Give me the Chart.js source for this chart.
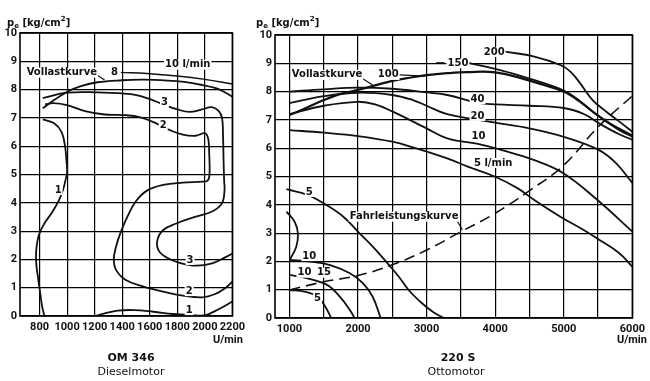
<!DOCTYPE html>
<html><head><meta charset="utf-8">
<script src="https://cdn.jsdelivr.net/npm/chart.js@4.4.1/dist/chart.umd.min.js"></script>
<style>
html,body{margin:0;padding:0;background:#fff;width:650px;height:381px;overflow:hidden;}
#wrap{position:relative;width:650px;height:381px;}
canvas{position:absolute;top:0;}
.t{position:absolute;font-family:'DejaVu Sans',sans-serif;font-weight:bold;color:#111;white-space:nowrap;line-height:1;}
.t sub{font-size:70%;vertical-align:-2px;}
.t sup{font-size:70%;vertical-align:5px;}
</style></head>
<body><div id="wrap">
<canvas id="c1" width="250" height="381" style="left:0"></canvas>
<canvas id="c2" width="400" height="381" style="left:250px"></canvas>
<div class="t" style="left:7px;top:16px;font-size:10px;">p<sub>e</sub> [kg/cm<sup>2</sup>]</div>
<div class="t" style="left:256px;top:16px;font-size:10px;">p<sub>e</sub> [kg/cm<sup>2</sup>]</div>
<div class="t" style="left:213px;top:334px;font-size:11px;font-family:Roboto,sans-serif;">U/min</div>
<div class="t" style="left:617px;top:334px;font-size:11px;font-family:Roboto,sans-serif;">U/min</div>
<div class="t" style="left:0;width:262px;text-align:center;top:352px;font-size:11px;">OM 346</div>
<div class="t" style="left:0;width:262px;text-align:center;top:366px;font-size:11px;font-weight:normal;">Dieselmotor</div>
<div class="t" style="left:358px;width:200px;text-align:center;top:352px;font-size:11px;">220 S</div>
<div class="t" style="left:356px;width:200px;text-align:center;top:366px;font-size:11px;font-weight:normal;">Ottomotor</div>
</div>
<script>
// ---------- shared ----------
const pTicks = [0,1,2,3,4,5,6,7,8,9,10];

// ---------- OM 346 Dieselmotor ----------
const dieselRpmTicks = [800,1000,1200,1400,1600,1800,2000,2200];
const dieselVollast = [[823,7.34],[906,7.63],[1000,7.92],[1100,8.12],[1220,8.26],[1400,8.33],[1550,8.35],[1730,8.32],[1850,8.27],[1960,8.18],[2080,8.05],[2150,7.89],[2200,7.75]];
const diesel8 = [[1391,8.61],[1580,8.57],[1800,8.48],[2000,8.36],[2200,8.2]];
const diesel3 = [[823,7.7],[1000,7.89],[1226,7.9],[1460,7.84],[1580,7.7],[1700,7.47],[1800,7.3],[1890,7.21],[1980,7.3],[2050,7.38],[2100,7.25],[2125,7.0],[2132,6.4],[2136,5.5],[2140,4.8],[2143,4.45],[2124,3.98],[2053,3.69],[1935,3.51],[1793,3.27],[1698,3.04],[1656,2.69],[1663,2.33],[1722,2.07],[1817,1.88],[1935,1.78],[2053,1.86],[2147,2.07],[2200,2.21]];
const diesel2 = [[840,7.48],[900,7.52],[1000,7.45],[1130,7.24],[1273,7.12],[1415,7.1],[1533,7.02],[1651,6.8],[1746,6.57],[1840,6.41],[1935,6.37],[2000,6.46],[2025,6.25],[2032,5.7],[2034,5.0],[2020,4.78],[1982,4.75],[1840,4.71],[1698,4.63],[1580,4.43],[1497,4.04],[1438,3.51],[1391,2.98],[1355,2.45],[1339,1.98],[1355,1.63],[1426,1.27],[1556,1.04],[1698,0.86],[1840,0.72],[1982,0.66],[2077,0.78],[2147,0.98],[2200,1.21]];
const diesel1Left = [[823,6.95],[906,6.81],[960,6.5],[985,6.0],[995,5.5],[1000,5.1],[989,4.81],[970,4.45],[942,4.10],[895,3.69],[835,3.27],[795,2.86],[776,2.33],[776,1.86],[788,1.39],[805,0.80],[819,0.33],[835,0]];
const diesel1Bottom = [[1202,0],[1273,0.09],[1367,0.19],[1486,0.21],[1627,0.15],[1769,0.07],[1935,0.02],[2006,0.03],[2100,0.24],[2200,0.51]];
const dieselLabels = [
  {x:962,y:8.6,t:'Vollastkurve'},{x:1344,y:8.6,t:'8'},{x:1876,y:8.88,t:'10 l/min'},
  {x:1707,y:7.54,t:'3'},{x:1698,y:6.75,t:'2'},{x:935,y:4.45,t:'1'},
  {x:1893,y:1.98,t:'3'},{x:1886,y:0.88,t:'2'},{x:1886,y:0.21,t:'1'}
];
const dieselLeaders = [[1201,8.57,1272,8.34]];

// ---------- 220 S Ottomotor ----------
const ottoRpmTicks = [1000,1500,2000,2500,3000,3500,4000,4500,5000,5500,6000];
const ottoRpmLabels = [1000,2000,3000,4000,5000,6000];
const ottoVollast = [[1000,7.17],[1250,7.43],[1500,7.70],[1750,7.92],[2000,8.06],[2250,8.22],[2500,8.38],[2750,8.49],[3000,8.58],[3300,8.65],[3600,8.69],[4000,8.68],[4400,8.46],[4700,8.24],[5000,8.0],[5250,7.62],[5500,7.15],[5800,6.66],[6000,6.41]];
const otto200 = [[4143,9.41],[4570,9.24],[4950,8.94],[5100,8.70],[5240,8.29],[5420,7.70],[5620,7.29],[5810,6.94],[6000,6.58]];
const otto150 = [[3590,9.02],[4000,8.80],[4380,8.55],[4710,8.30],[5000,8.04],[5190,7.75],[5420,7.29],[5670,6.88],[6000,6.45]];
const otto40 = [[1000,8.0],[1500,8.08],[2000,8.14],[2500,8.1],[3000,7.97],[3300,7.88],[3750,7.6],[4000,7.55],[4500,7.5],[5000,7.42],[5300,7.2],[5500,6.9],[5800,6.5],[6000,6.3]];
const otto20 = [[1000,7.59],[1500,7.84],[2000,7.96],[2500,7.88],[2800,7.7],[3000,7.5],[3300,7.2],[3750,7.0],[4000,6.9],[4500,6.7],[5000,6.4],[5500,5.95],[5750,5.5],[6000,4.77]];
const otto10 = [[1000,7.2],[1500,7.5],[2000,7.64],[2250,7.55],[2500,7.3],[3000,6.7],[3300,6.35],[3750,6.15],[4100,5.93],[4570,5.58],[5000,5.11],[5500,4.15],[6000,3.05]];
const otto5 = [[1000,6.64],[1500,6.55],[2000,6.43],[2500,6.23],[2800,6.03],[3300,5.64],[3600,5.35],[4000,4.99],[4330,4.58],[4570,4.17],[4950,3.58],[5290,3.11],[5520,2.76],[5810,2.29],[6000,1.81]];
const ottoFahr = [[1000,0.99],[1500,1.28],[2000,1.5],[2500,1.88],[3000,2.4],[3500,3.05],[4000,3.7],[4500,4.5],[5000,5.4],[5500,6.75],[6000,7.85]];
const ottoLow5Big = [[957,4.55],[1262,4.35],[1500,4.05],[1786,3.58],[2024,2.99],[2262,2.40],[2452,1.87],[2595,1.46],[2738,0.99],[2933,0.52],[3100,0.2],[3250,0]];
const ottoArc = [[957,3.76],[1076,3.40],[1124,2.99],[1100,2.52],[1005,2.05]];
const ottoLow10 = [[1000,2.05],[1310,1.99],[1595,1.87],[1881,1.58],[2071,1.23],[2214,0.75],[2330,0]];
const ottoLow15 = [[1000,1.52],[1262,1.40],[1548,1.17],[1738,0.75],[1881,0.28],[1950,0]];
const ottoLow5 = [[1000,0.99],[1219,0.93],[1410,0.75],[1524,0.40],[1610,0]];
const ottoLabels = [
  {x:1549,y:8.59,t:'Vollastkurve'},{x:2440,y:8.59,t:'100'},{x:3457,y:9.0,t:'150'},{x:3986,y:9.4,t:'200'},
  {x:3743,y:7.73,t:'40'},{x:3743,y:7.14,t:'20'},{x:3757,y:6.43,t:'10'},{x:3971,y:5.48,t:'5 l/min'},
  {x:2671,y:3.58,t:'Fahrleistungskurve'},
  {x:1290,y:4.45,t:'5'},{x:1290,y:2.19,t:'10'},{x:1219,y:1.60,t:'10'},{x:1505,y:1.60,t:'15'},{x:1410,y:0.70,t:'5'}
];
const ottoLeaders = [[2030,8.52,2214,8.23],[2600,8.59,2980,8.55],[3140,9.02,3260,9.02],[3430,3.5,3520,3.12]];

const LABEL_FONT = "'DejaVu Sans',sans-serif";
const TICK_FONT = "Roboto,'Liberation Sans',sans-serif";

const framePlugin = {
  id:'frame',
  beforeDatasetsDraw(chart){
    const a = chart.chartArea, ctx = chart.ctx;
    ctx.save(); ctx.strokeStyle='#000'; ctx.lineWidth=1.6;
    ctx.strokeRect(a.left, a.top, a.right-a.left, a.bottom-a.top);
    ctx.restore();
  },
  afterDatasetsDraw(chart, args, opts){
    const ctx = chart.ctx, xs = chart.scales.x, ys = chart.scales.y;
    ctx.save();
    ctx.strokeStyle='#111'; ctx.lineWidth=1.2;
    (opts.leaders||[]).forEach(l=>{
      ctx.beginPath();
      ctx.moveTo(xs.getPixelForValue(l[0]), ys.getPixelForValue(l[1]));
      ctx.lineTo(xs.getPixelForValue(l[2]), ys.getPixelForValue(l[3]));
      ctx.stroke();
    });
    ctx.font = 'bold 10px ' + LABEL_FONT;
    ctx.textAlign='center'; ctx.textBaseline='middle';
    (opts.labels||[]).forEach(l=>{
      const px = xs.getPixelForValue(l.x), py = ys.getPixelForValue(l.y);
      const w = ctx.measureText(l.t).width;
      ctx.fillStyle='#fff';
      ctx.fillRect(px-w/2-1, py-5, w+2, 10);
      ctx.fillStyle='#111';
      ctx.fillText(l.t, px, py);
    });
    ctx.restore();
  }
};

function makeChart(id, c){
  const datasets = c.series.map(s=>({
    data: s.pts.map(p=>({x:p[0], y:p[1]})),
    borderColor:'#111', borderWidth: s.w || 1.8, borderDash: s.dash || [],
    pointRadius:0, tension:0.4, fill:false
  }));
  return new Chart(document.getElementById(id), {
    type:'line',
    data:{datasets},
    plugins:[framePlugin],
    options:{
      responsive:false, devicePixelRatio:1, animation:false,
      layout:{padding:c.pad},
      plugins:{legend:{display:false}, tooltip:{enabled:false},
        frame:{labels:c.labels, leaders:c.leaders}},
      scales:{
        x:{type:'linear', min:c.xmin, max:c.xmax,
          afterBuildTicks:s=>{ s.ticks = c.xTicks.map(v=>({value:v})); },
          afterFit:s=>{ s.height = 20; },
          grid:{color:'#000', lineWidth:1.2, drawTicks:false},
          border:{display:false},
          ticks:{padding:5, color:'#111', autoSkip:false, maxRotation:0,
            font:{family:TICK_FONT, size:11, weight:'bold'},
            callback:(v)=> c.xLabels.includes(v) ? String(v) : ''}},
        y:{type:'linear', min:0, max:10,
          afterBuildTicks:s=>{ s.ticks = pTicks.map(v=>({value:v})); },
          afterFit:s=>{ s.width = c.yw; },
          grid:{color:'#000', lineWidth:1.2, drawTicks:false},
          border:{display:false},
          ticks:{padding:3, color:'#111', autoSkip:false,
            font:{family:TICK_FONT, size:11, weight:'bold'}}}
      }
    }
  });
}

makeChart('c1', {
  xmin:658, xmax:2200, xTicks:dieselRpmTicks, xLabels:dieselRpmTicks, yw:20,
  pad:{left:0, top:33, right:12, bottom:45},
  labels:dieselLabels, leaders:dieselLeaders,
  series:[
    {pts:dieselVollast},{pts:diesel8, w:1.4},{pts:diesel3},{pts:diesel2},
    {pts:diesel1Left},{pts:diesel1Bottom}
  ]
});

makeChart('c2', {
  xmin:790, xmax:6000, xTicks:ottoRpmTicks, xLabels:ottoRpmLabels, yw:25,
  pad:{left:0, top:35, right:10, bottom:43},
  labels:ottoLabels, leaders:ottoLeaders,
  series:[
    {pts:ottoVollast, w:2.2},{pts:otto200},{pts:otto150},{pts:otto40},{pts:otto20},{pts:otto10},{pts:otto5},
    {pts:ottoFahr, dash:[11,6], w:1.6},
    {pts:ottoLow5Big},{pts:ottoArc},{pts:ottoLow10},{pts:ottoLow15},{pts:ottoLow5}
  ]
});
</script>
</body></html>
